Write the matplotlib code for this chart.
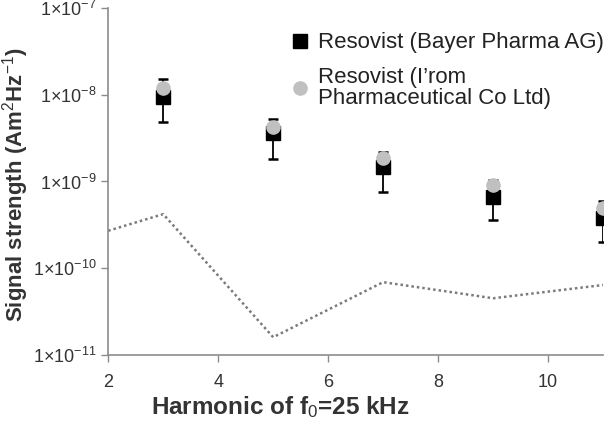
import math
import matplotlib
matplotlib.use('Agg')
import matplotlib.pyplot as plt
from matplotlib.lines import Line2D
from matplotlib.ticker import FixedLocator, FuncFormatter

plt.rcParams['font.family'] = ['Liberation Sans', 'DejaVu Sans']
plt.rcParams['mathtext.fontset'] = 'custom'
plt.rcParams['mathtext.rm'] = 'Liberation Sans'
plt.rcParams['mathtext.it'] = 'Liberation Sans:italic'
plt.rcParams['mathtext.bf'] = 'Liberation Sans:bold'

# harmonics and signal values (Am^2 Hz^-1)
harmonics = [3, 5, 7, 9, 11]
bayer = [0.95e-8, 3.65e-9, 1.45e-9, 6.7e-10, 3.8e-10]
bayer_lo = [4.9e-9, 1.8e-9, 7.5e-10, 3.55e-10, 2.0e-10]
bayer_hi = [1.5e-8, 5.3e-9, 2.2e-9, 1.05e-9, 6.0e-10]
irom = [1.2e-8, 4.3e-9, 1.84e-9, 9.0e-10, 5.0e-10]

noise_x = [2, 3, 5, 7, 9, 11]
noise = [2.7e-10, 4.2e-10, 1.6e-11, 6.9e-11, 4.5e-11, 6.4e-11]

yticks = [1e-11, 1e-10, 1e-9, 1e-8, 1e-7]
xticks = [2, 4, 6, 8, 10]
labels = ['Resovist (Bayer Pharma AG)', 'Resovist (I\u2019rom\nPharmaceutical Co Ltd)']

fig = plt.figure(figsize=(6.08, 4.21), dpi=100)
ax = fig.add_axes([0.178, 0.157, 0.814, 0.824])

axis_grey = '#8c8c8c'
circle_grey = '#c0c0c0'

ax.plot(noise_x, noise, linestyle=(0, (1, 1.2)), color='#7a7a7a', linewidth=1.8, zorder=1)

err = [[b - l for b, l in zip(bayer, bayer_lo)], [h - b for b, h in zip(bayer, bayer_hi)]]
ax.errorbar(harmonics, bayer, yerr=err, fmt='s', color='black', markersize=9.5,
            ecolor='black', elinewidth=1.3, capsize=3.5, capthick=1.8, zorder=2)
ax.plot(harmonics, irom, 'o', color=circle_grey, markersize=9.5, linestyle='none', zorder=3)

ax.set_yscale('log')
ax.set_ylim(1e-11, 1e-7)
ax.set_xlim(2, 11)
ax.yaxis.set_major_locator(FixedLocator(yticks))
ax.yaxis.set_minor_locator(FixedLocator([]))
ax.yaxis.set_major_formatter(FuncFormatter(lambda v, p: r'$1{\times}10^{%d}$' % round(math.log10(v))))
ax.set_xticks(xticks)

for s in ['top', 'right']:
    ax.spines[s].set_visible(False)
for s in ['left', 'bottom']:
    ax.spines[s].set_color(axis_grey)
    ax.spines[s].set_linewidth(1.2)
ax.tick_params(axis='both', colors=axis_grey, labelcolor='#333333', labelsize=13, length=5, width=1)
ax.tick_params(axis='x', pad=9)

ax.set_ylabel('Signal strength (Am$^2$Hz$^{-1}$)', fontsize=16, fontweight='bold', color='#333333')
ax.yaxis.set_label_coords(-0.156, 0.49)
ax.set_xlabel('Harmonic of f$_0$=25 kHz', fontsize=17.5, fontweight='bold', color='#333333')
ax.xaxis.set_label_coords(0.347, -0.112)

handles = [Line2D([], [], marker='s', color='black', markersize=9.5, linestyle='none'),
           Line2D([], [], marker='o', color=circle_grey, markersize=9.5, linestyle='none')]
leg = ax.legend(handles, labels, loc='upper left', bbox_to_anchor=(0.365, 0.93), frameon=False,
                fontsize=16, handletextpad=0.3, labelspacing=0.6, handlelength=1.0,
                borderpad=0, borderaxespad=0)
for t in leg.get_texts():
    t.set_color('#222222')
    t.set_linespacing(1.05)

fig.savefig('out.png', dpi=100)
